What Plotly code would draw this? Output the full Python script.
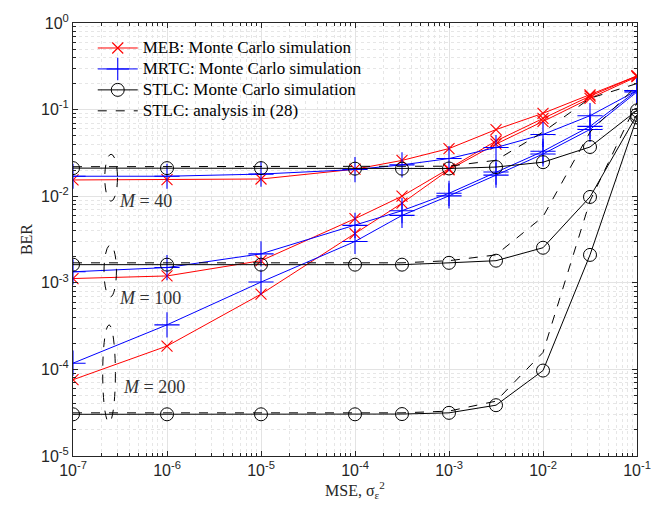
import plotly.graph_objects as go

# ---------------- data ----------------
mse = [1e-7, 1e-6, 1e-5, 1e-4, 3.162e-4, 1e-3, 3.162e-3, 1e-2, 3.162e-2, 1e-1]

meb_m40 = [0.0154, 0.0155, 0.0158, 0.0205, 0.0259, 0.0355, 0.0588, 0.0906, 0.148, 0.245]
meb_m100 = [0.00112, 0.0012, 0.0018, 0.0055, 0.0100, 0.0207, 0.0434, 0.079, 0.143, 0.245]
meb_m200 = [7.6e-5, 1.86e-4, 7.4e-4, 0.0037, 0.0083, 0.0202, 0.040, 0.073, 0.135, 0.240]

mrtc_m40 = [0.0170, 0.0170, 0.0180, 0.0203, 0.0230, 0.0272, 0.0365, 0.0516, 0.085, 0.166]
mrtc_m100 = [0.00134, 0.0015, 0.00216, 0.0046, 0.0068, 0.0108, 0.0190, 0.0330, 0.064, 0.166]
mrtc_m200 = [1.18e-4, 3.27e-4, 1.02e-3, 0.0030, 0.0060, 0.0101, 0.0175, 0.0307, 0.059, 0.160]

stlc_mc_m40 = [0.0211, 0.0211, 0.0211, 0.0208, 0.0208, 0.0209, 0.0217, 0.0247, 0.0370, 0.098]
stlc_mc_m100 = [0.00162, 0.00162, 0.00162, 0.00162, 0.00162, 0.0017, 0.0018, 0.00254, 0.0098, 0.087]
stlc_mc_m200 = [3.03e-5, 3.03e-5, 3.03e-5, 3.03e-5, 3.05e-5, 3.15e-5, 3.86e-5, 9.7e-5, 0.0021, 0.081]

stlc_an_m40 = [0.0219, 0.0219, 0.0219, 0.0219, 0.0219, 0.0222, 0.026, 0.055, 0.135, 0.200]
stlc_an_m100 = [0.0017, 0.0017, 0.0017, 0.0017, 0.0017, 0.0018, 0.0021, 0.0058, 0.055, 0.190]
stlc_an_m200 = [3.15e-5, 3.15e-5, 3.15e-5, 3.15e-5, 3.15e-5, 3.3e-5, 4.3e-5, 1.57e-4, 0.0088, 0.120]

x_tickvals = [1e-7, 1e-6, 1e-5, 1e-4, 1e-3, 1e-2, 1e-1]
x_ticktext = ["10<sup>-7</sup>", "10<sup>-6</sup>", "10<sup>-5</sup>", "10<sup>-4</sup>",
              "10<sup>-3</sup>", "10<sup>-2</sup>", "10<sup>-1</sup>"]
y_tickvals = [1e-5, 1e-4, 1e-3, 1e-2, 1e-1, 1]
y_ticktext = ["10<sup>-5</sup>", "10<sup>-4</sup>", "10<sup>-3</sup>", "10<sup>-2</sup>",
              "10<sup>-1</sup>", "10<sup>0</sup>"]

legend_names = ["MEB: Monte Carlo simulation", "MRTC: Monte Carlo simulation",
                "STLC: Monte Carlo simulation", "STLC: analysis in (28)"]
m_labels = ["<i>M</i> = 40", "<i>M</i> = 100", "<i>M</i> = 200"]

X_LOG_RANGE = [-7, -1]
Y_LOG_RANGE = [-5, 0]

# ---------------- figure ----------------
fig = go.Figure()

groups = [
    (legend_names[0], [meb_m40, meb_m100, meb_m200],
     dict(color="#ff0000", width=1), dict(symbol="x-thin-open", size=11,
                                          line=dict(color="#ff0000", width=1.1)), "lines+markers"),
    (legend_names[1], [mrtc_m40, mrtc_m100, mrtc_m200],
     dict(color="#0000ff", width=1), dict(symbol="cross-thin-open", size=18,
                                          line=dict(color="#0000ff", width=1.1)), "lines+markers"),
    (legend_names[2], [stlc_mc_m40, stlc_mc_m100, stlc_mc_m200],
     dict(color="#000000", width=1), dict(symbol="circle-open", size=13, color="#000000",
                                          line=dict(color="#000000", width=1)), "lines+markers"),
    (legend_names[3], [stlc_an_m40, stlc_an_m100, stlc_an_m200],
     dict(color="#000000", width=1, dash="dash"), None, "lines"),
]

for name, series, line, marker, mode in groups:
    for i, ys in enumerate(series):
        kw = dict(x=mse, y=ys, mode=mode, line=line,
                  name='<span style="font-size:17px">' + name + '</span>',
                  legendgroup=name, showlegend=(i == 0))
        if marker is not None:
            kw["marker"] = marker
        fig.add_trace(go.Scatter(**kw))


def px_frac(v, rng):
    return (v - rng[0]) / (rng[1] - rng[0])


# dashed ellipses marking the groups (given as log10 positions)
ellipses = [(-6.662, -6.527, -2.057, -1.516),
            (-6.670, -6.538, -3.164, -2.564),
            (-6.684, -6.549, -4.613, -3.486)]
for x0, x1, y0, y1 in ellipses:
    fig.add_shape(type="circle", xref="paper", yref="paper",
                  x0=px_frac(x0, X_LOG_RANGE), x1=px_frac(x1, X_LOG_RANGE),
                  y0=px_frac(y0, Y_LOG_RANGE), y1=px_frac(y1, Y_LOG_RANGE),
                  line=dict(color="black", width=1, dash="dash"))

label_pos = [(-6.530, -2.050), (-6.534, -3.170), (-6.490, -4.199)]
for txt, (lx, ly) in zip(m_labels, label_pos):
    fig.add_annotation(x=lx, y=ly, xref="x", yref="y", text=txt, showarrow=False,
                       xanchor="left", yanchor="middle",
                       font=dict(family="Liberation Serif", size=18, color="#333333"))

axis_common = dict(
    type="log", showline=True, linecolor="#262626", linewidth=1, mirror="ticks",
    ticks="inside", ticklen=5, tickcolor="#262626", ticklabeloverflow="allow",
    showgrid=True, gridcolor="#e3e3e3", gridwidth=1, zeroline=False,
    tickfont=dict(family="Liberation Sans", size=16, color="#262626"),
)

minor_x = [m * 10.0 ** e for e in range(-7, -1) for m in range(2, 10)]
minor_y = [m * 10.0 ** e for e in range(-5, 0) for m in range(2, 10)]

fig.update_xaxes(**axis_common, range=X_LOG_RANGE, tickmode="array",
                 tickvals=x_tickvals, ticktext=x_ticktext,
                 minor=dict(tickmode="array", tickvals=minor_x, ticks="inside", ticklen=3,
                            tickcolor="#262626", showgrid=True, gridcolor="#e6e6e6",
                            griddash="dot", gridwidth=1),
                 title=dict(text="MSE, σ<sub>ε</sub><sup>2</sup>", standoff=4,
                            font=dict(family="Liberation Serif", size=16, color="#262626")))
fig.update_yaxes(**axis_common, range=Y_LOG_RANGE, tickmode="array",
                 tickvals=y_tickvals, ticktext=y_ticktext,
                 minor=dict(tickmode="array", tickvals=minor_y, ticks="inside", ticklen=3,
                            tickcolor="#262626", showgrid=True, gridcolor="#e6e6e6",
                            griddash="dot", gridwidth=1),
                 title=dict(text="BER", standoff=4,
                            font=dict(family="Liberation Serif", size=16, color="#262626")))

fig.update_layout(
    width=669, height=519,
    margin=dict(l=73, r=32, t=12, b=63),
    paper_bgcolor="white", plot_bgcolor="white",
    legend=dict(x=0.035, y=0.978, xanchor="left", yanchor="top",
                bgcolor="rgba(255,255,255,0)", borderwidth=0,
                font=dict(family="Liberation Serif", size=13.8, color="#000000"),
                tracegroupgap=0, itemwidth=40),
)

fig.write_html("out.html")
